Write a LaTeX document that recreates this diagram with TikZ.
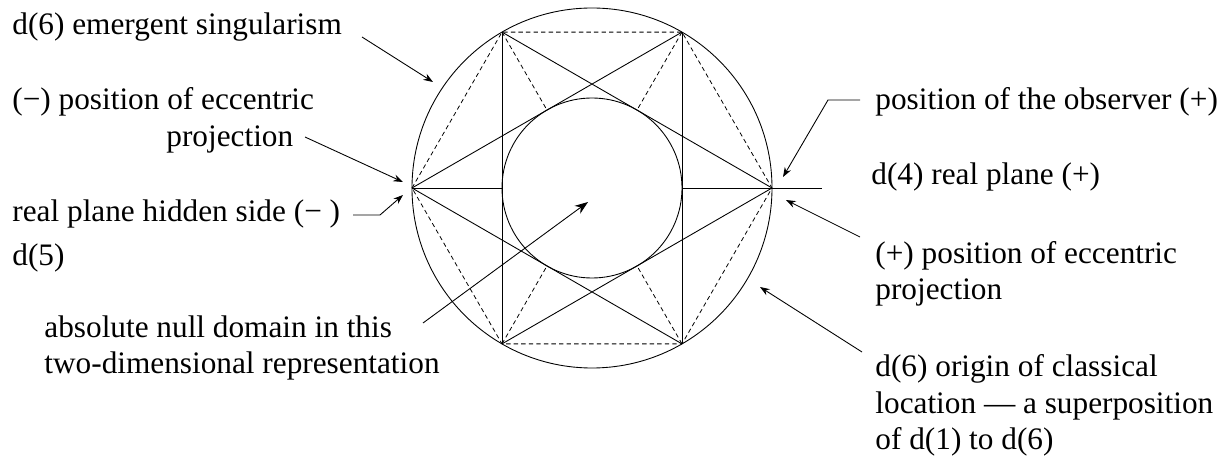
\documentclass[tikz,border=0pt]{standalone}
\usepackage{fontspec}
\setmainfont{Liberation Serif}
\usetikzlibrary{arrows.meta,calc}

\begin{document}
\begin{tikzpicture}[x=0.02cm,y=-0.02cm,line width=0.5pt,
  lbl/.style={font=\fontsize{17.8}{21}\selectfont, inner sep=0pt, anchor=base west, align=left},
  callout/.style={-{Stealth[length=5.5pt,width=4pt]}},
  dashln/.style={line width=0.45pt, dash pattern=on 2.5pt off 1.8pt}]
\useasboundingbox (0,0) rectangle (1232,459);

% outer and inner circle
\coordinate (O) at (592,188);
\draw (O) circle (180);
\draw (O) circle (90);

% points on both circles
\foreach \n/\a in {R/0,BR/60,BL/120,L/180,TL/240,TR/300}{
  \coordinate (\n) at ($(O)+(\a:180)$);
  \coordinate (in\n) at ($(O)+(\a:90)$);
}
\coordinate (Rx) at (822,188);

% star and frame
\draw (L) -- (TR) (L) -- (BR) (R) -- (TL) (R) -- (BL);
\draw (TL) -- (BL) (TR) -- (BR);
\draw (L) -- (inL) (inR) -- (Rx);
\draw[dashln] (L) -- (TL) -- (TR) -- (R) -- (BR) -- (BL) -- cycle;
\draw[dashln] (TL) -- (inTL) (TR) -- (inTR) (BL) -- (inBL) (BR) -- (inBR);

% labels on the left (multi-line nodes sit on their last line)
\node[lbl] (sing) at (12,35) {d(6) emergent singularism};
\node[lbl] (eccl) at (12,110) {(−) position of eccentric};
\node[lbl] (eccl2) at (166,147) {projection};
\node[lbl] (hidd) at (12,222) {real plane hidden side (− )};
\node[lbl] (dfive) at (12,266) {d(5)};
\node[lbl] (null) at (44,374) {absolute null domain in this\\two-dimensional representation};

% labels on the right
\node[lbl] (obs) at (875,110) {position of the observer (+)};
\node[lbl] (real) at (871,185) {d(4) real plane (+)};
\node[lbl] (eccr) at (875,300) {(+) position of eccentric\\projection};
\node[lbl] (orig) at (875,450) {d(6) origin of classical\\location — a superposition\\of d(1) to d(6)};

% arrows
\coordinate (s1) at (362,37);   \coordinate (e1) at (433,82);
\coordinate (s2) at (305,137);  \coordinate (e2) at (403,182);
\coordinate (s3) at (353,215);  \coordinate (k3) at (380,215);  \coordinate (e3) at (403,195);
\coordinate (s4) at (423,323);  \coordinate (e4) at (588,202);
\coordinate (s5) at (860,100);  \coordinate (k5) at (828,100);  \coordinate (e5) at (783,177);
\coordinate (s6) at (860,237);  \coordinate (e6) at (786,200);
\coordinate (s7) at (862,352);  \coordinate (e7) at (760,287);
\draw[callout] (s1) -- (e1);
\draw[callout] (s2) -- (e2);
\draw[callout] (s3) -- (k3) -- (e3);
\draw[-{Stealth[length=7.5pt,width=5.5pt]}] (s4) -- (e4);
\draw[callout] (s5) -- (k5) -- (e5);
\draw[callout] (s6) -- (e6);
\draw[callout] (s7) -- (e7);
\end{tikzpicture}
\end{document}
